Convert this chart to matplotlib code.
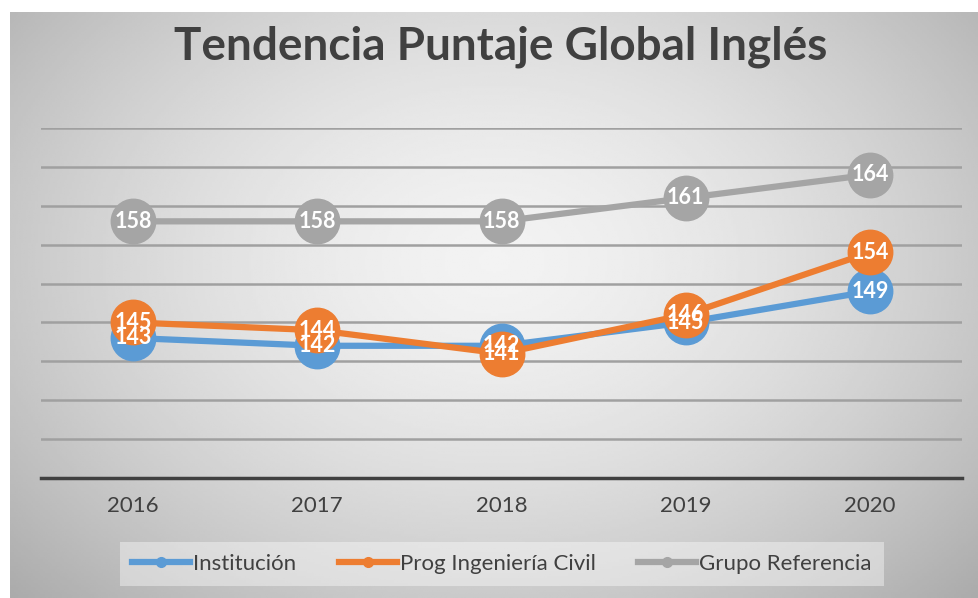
#!/usr/bin/env python3

import matplotlib
matplotlib.use('Agg')
import matplotlib.pyplot as plt
import numpy as np

years = ["2016", "2017", "2018", "2019", "2020"]
institucion = [143, 142, 142, 145, 149]
prog_civil = [145, 144, 141, 146, 154]
grupo_ref = [158, 158, 158, 161, 164]

series = [
    ("Institución", institucion, "#5B9BD5"),
    ("Prog Ingeniería Civil", prog_civil, "#ED7D31"),
    ("Grupo Referencia", grupo_ref, "#A5A5A5"),
]

plt.rcParams['font.family'] = ['Lato', 'DejaVu Sans']

W, H = 979, 598
fig = plt.figure(figsize=(W / 100, H / 100), dpi=100)

# grey radial gradient background of the chart area
bg = fig.add_axes([10 / W, 0, (W - 10) / W, (H - 12) / H])
gx, gy = np.meshgrid(np.linspace(-1, 1, 400), np.linspace(-1, 1, 250))
r = np.sqrt((gx * 0.95) ** 2 + ((gy + 0.15) * 0.8) ** 2)
shade = 0.95 - 0.18 * np.clip(r, 0, 1.4) ** 1.6
bg.imshow(shade, cmap='gray', vmin=0, vmax=1, aspect='auto', extent=[0, 1, 0, 1])
bg.set_axis_off()

ax = fig.add_axes([41 / W, 1 - 478 / H, (962 - 41) / W, (478 - 128) / H])
ax.patch.set_alpha(0)

x = np.arange(len(years))
for name, vals, c in series:
    ax.plot(x, vals, color=c, lw=4.5, marker='o', ms=32, mec=c, mfc=c,
            solid_capstyle='round', label=name, zorder=3)
for name, vals, c in series:
    for xi, v in zip(x, vals):
        ax.text(xi, v, str(v), ha='center', va='center', color='white',
                fontsize=15.5, fontweight='bold', zorder=5)

ax.set_xlim(-0.5, len(years) - 0.5)
ax.set_ylim(125, 170)
ax.set_yticks(range(125, 171, 5))
ax.yaxis.grid(True, color='#a0a0a0', lw=1.8)
ax.tick_params(axis='y', left=False, labelleft=False)
ax.set_xticks(x)
ax.set_xticklabels(years, fontsize=16, color='#404040')
ax.tick_params(axis='x', length=0, pad=13)
for s in ['top', 'right', 'left']:
    ax.spines[s].set_visible(False)
ax.spines['bottom'].set_color('#404040')
ax.spines['bottom'].set_linewidth(2.5)
ax.set_axisbelow(True)

fig.text(501 / W, 1 - 47 / H, "Tendencia Puntaje Global Inglés", ha='center', va='center',
         fontsize=33, fontweight='bold', color='#404040')

handles = [plt.Line2D([], [], color=c, lw=4.5, marker='o', ms=7) for _, _, c in series]
leg = fig.legend(handles, [s[0] for s in series], loc='center',
                 bbox_to_anchor=(502 / W, 1 - 564 / H), ncol=3, fontsize=16,
                 frameon=True, handlelength=2.6, handletextpad=0.15,
                 columnspacing=1.9, borderpad=0.55)
leg.get_frame().set_facecolor('white')
leg.get_frame().set_alpha(0.4)
leg.get_frame().set_edgecolor('none')
leg.get_frame().set_boxstyle('square', pad=0)
for t in leg.get_texts():
    t.set_color('#404040')

fig.savefig('out.png', dpi=100)
